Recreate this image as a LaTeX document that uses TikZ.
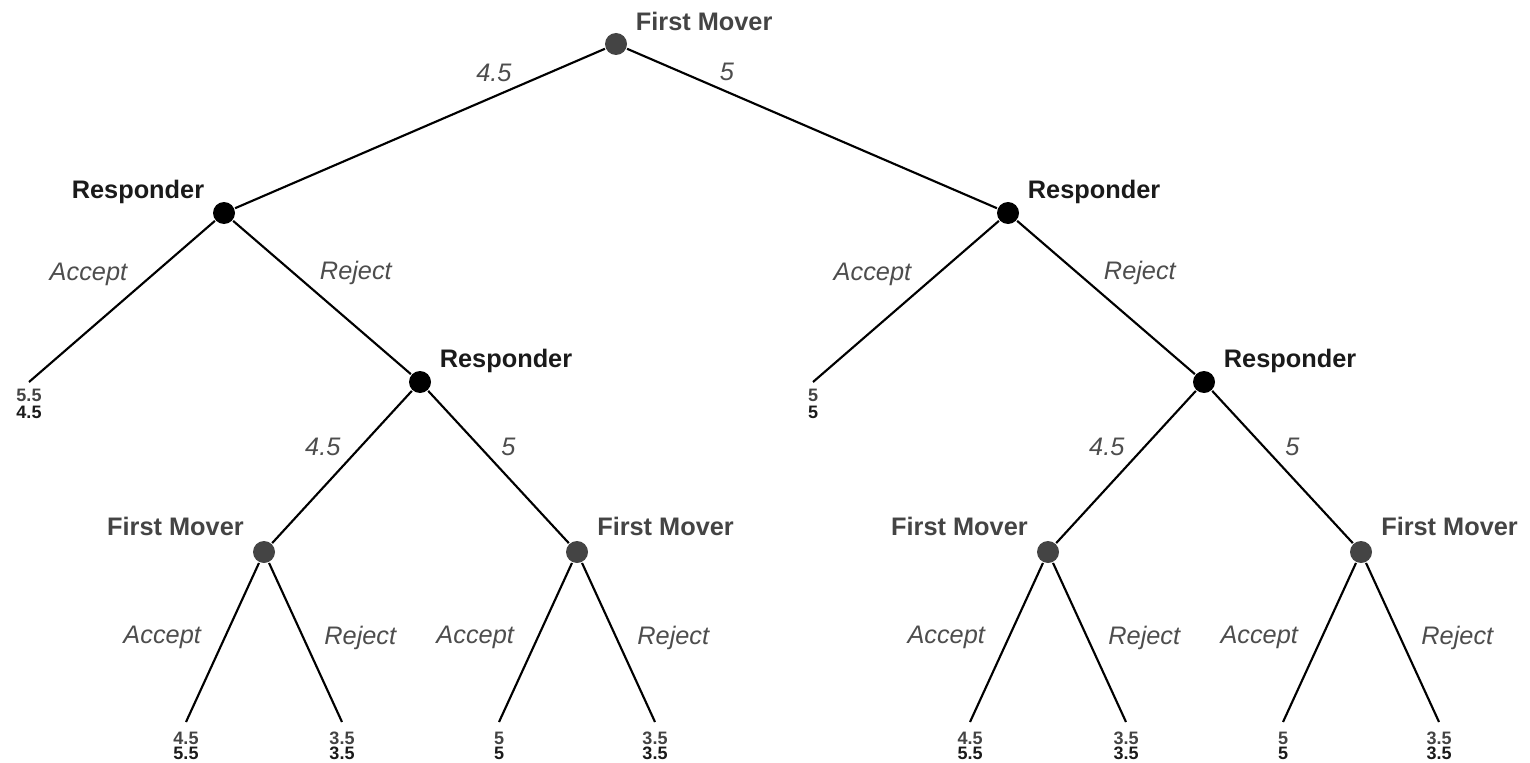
\documentclass[tikz,border=0pt]{standalone}
\usepackage{fontspec}
\setmainfont{Liberation Sans}
\usetikzlibrary{positioning}

\definecolor{fmgray}{HTML}{444444}
\definecolor{rsdark}{HTML}{1A1A1A}
\definecolor{actgray}{HTML}{4D4D4D}

\begin{document}
\begin{tikzpicture}[x=0.75pt,y=-0.75pt,line width=1.6pt,
  fm/.style={circle,fill=fmgray,inner sep=0pt,minimum size=16.5pt},
  rs/.style={circle,fill=black,inner sep=0pt,minimum size=16.5pt},
  who/.style={inner sep=0pt,font=\fontsize{19}{23}\selectfont\bfseries},
  act/.style={inner sep=0pt,text=actgray,font=\fontsize{19}{23}\selectfont\itshape},
  pay/.style={inner sep=0pt,align=center,text=rsdark,font=\fontsize{13.5}{11}\selectfont\bfseries},
  paymid/.style={pay,font=\fontsize{13.5}{13}\selectfont\bfseries}]

\useasboundingbox (0,0) rectangle (1530,763);

% decision nodes
\node[fm] (root) at (616,44) {};
\node[rs] (rL)   at (224,213) {};
\node[rs] (rR)   at (1008,213) {};
\node[rs] (rLR)  at (420,382) {};
\node[rs] (rRR)  at (1204,382) {};
\node[fm] (fLa)  at (264,552) {};
\node[fm] (fLb)  at (577,552) {};
\node[fm] (fRa)  at (1048,552) {};
\node[fm] (fRb)  at (1361,552) {};

% who moves
\node[who,text=fmgray,above right=3pt and 7.7pt of root] (root-l) {First Mover};
\node[who,text=rsdark,above left=0pt and 7.7pt of rL]    (rL-l)   {Responder};
\node[who,text=rsdark,above right=0pt and 7.7pt of rR]   (rR-l)   {Responder};
\node[who,text=rsdark,above right=0pt and 7.7pt of rLR]  (rLR-l)  {Responder};
\node[who,text=rsdark,above right=0pt and 7.7pt of rRR]  (rRR-l)  {Responder};
\node[who,text=fmgray,above left=5pt and 8pt of fLa]     (fLa-l)  {First Mover};
\node[who,text=fmgray,above right=5pt and 8pt of fLb]    (fLb-l)  {First Mover};
\node[who,text=fmgray,above left=5pt and 8pt of fRa]     (fRa-l)  {First Mover};
\node[who,text=fmgray,above right=5pt and 8pt of fRb]    (fRb-l)  {First Mover};

% end points and payoffs
\coordinate (xL) at (29,382);
\coordinate (xR) at (813,382);
\coordinate (l1) at (186,722);
\coordinate (l2) at (342,722);
\coordinate (l3) at (499,722);
\coordinate (l4) at (655,722);
\coordinate (l5) at (970,722);
\coordinate (l6) at (1126,722);
\coordinate (l7) at (1283,722);
\coordinate (l8) at (1439,722);

\node[paymid,below=4.5pt of xL] (pL) {{\color{fmgray}5.5}\\4.5};
\node[paymid,below=4.5pt of xR] (pR) {{\color{fmgray}5}\\5};
\node[pay,below=7pt of l1] (p1) {{\color{fmgray}4.5}\\5.5};
\node[pay,below=7pt of l2] (p2) {{\color{fmgray}3.5}\\3.5};
\node[pay,below=7pt of l3] (p3) {{\color{fmgray}5}\\5};
\node[pay,below=7pt of l4] (p4) {{\color{fmgray}3.5}\\3.5};
\node[pay,below=7pt of l5] (p5) {{\color{fmgray}4.5}\\5.5};
\node[pay,below=7pt of l6] (p6) {{\color{fmgray}3.5}\\3.5};
\node[pay,below=7pt of l7] (p7) {{\color{fmgray}5}\\5};
\node[pay,below=7pt of l8] (p8) {{\color{fmgray}3.5}\\3.5};

\path
(root) edge node[act,pos=.30,above=10pt] {4.5} (rL)
(root) edge node[act,pos=.27,above=7.4pt] {5} (rR)
(rL)  edge node[act,pos=.33,left=19pt]  {Accept} (xL)
(rL)  edge node[act,pos=.34,right=19pt] {Reject} (rLR)
(rR)  edge node[act,pos=.33,left=19pt]  {Accept} (xR)
(rR)  edge node[act,pos=.34,right=19pt] {Reject} (rRR)
(rLR) edge node[act,pos=.37,left=14pt]  {4.5} (fLa)
(rLR) edge node[act,pos=.37,right=15pt] {5} (fLb)
(rRR) edge node[act,pos=.37,left=14pt]  {4.5} (fRa)
(rRR) edge node[act,pos=.37,right=15pt] {5} (fRb)
(fLa) edge node[act,pos=.47,left=17pt]  {Accept} (l1)
(fLa) edge node[act,pos=.47,right=15pt] {Reject} (l2)
(fLb) edge node[act,pos=.47,left=17pt]  {Accept} (l3)
(fLb) edge node[act,pos=.47,right=15pt] {Reject} (l4)
(fRa) edge node[act,pos=.47,left=17pt]  {Accept} (l5)
(fRa) edge node[act,pos=.47,right=15pt] {Reject} (l6)
(fRb) edge node[act,pos=.47,left=17pt]  {Accept} (l7)
(fRb) edge node[act,pos=.47,right=15pt] {Reject} (l8)
;
\end{tikzpicture}
\end{document}
